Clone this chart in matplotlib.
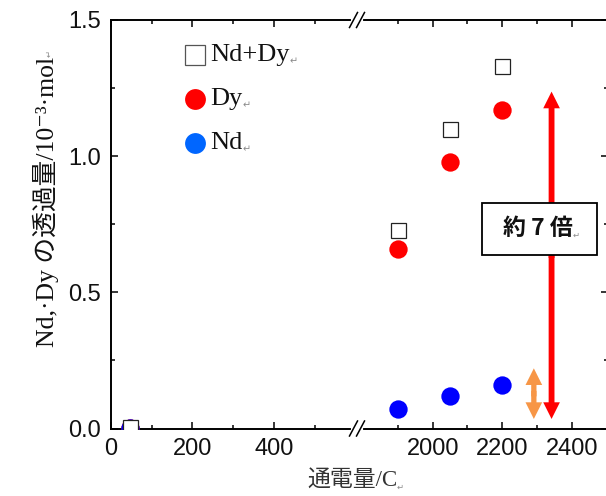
import matplotlib
matplotlib.use('Agg')
import matplotlib.pyplot as plt
from matplotlib.patches import FancyArrowPatch, Rectangle
from matplotlib.ticker import FixedLocator, MultipleLocator, FormatStrFormatter
from matplotlib.lines import Line2D
from matplotlib.text import Annotation

# ---------------- data ----------------
charge = [47, 1900, 2050, 2200]          # 通電量 / C
nd = [0.002, 0.07, 0.12, 0.16]           # Nd 透過量 / 10^-3 mol
dy = [0.002, 0.66, 0.98, 1.17]           # Dy
nd_dy = [0.006, 0.73, 1.10, 1.33]        # Nd+Dy

series_labels = ['Nd+Dy', 'Dy', 'Nd']
xlabel = '通電量/C'
ylabel = 'Nd,·Dy の透過量/10⁻³·mol'
ratio_text = '約 7 倍'

left_xlim = (0, 603)
right_xlim = (1782, 2503)
ylim = (0, 1.5)
left_major = [0, 200, 400]
left_minor = [100, 300, 500]
right_major = [2000, 2200, 2400]
right_minor = [1900, 2100, 2300]

# annotation arrows (x, y_low, y_high)
dy_arrow = (2342, 0.035, 1.237)
nd_arrow = (2291, 0.035, 0.221)

# ---------------- style ----------------
plt.rcParams['font.family'] = ['Liberation Sans', 'DejaVu Sans']
SERIF = ['Liberation Serif', 'Noto Sans CJK JP', 'DejaVu Sans']
CJK = ['Noto Sans CJK JP', 'Liberation Serif', 'DejaVu Sans']
RED = '#ff0000'
BLUE = '#0000ff'
LEG_BLUE = '#0066ff'
ORANGE = '#f79646'

W, H = 606, 496
fig = plt.figure(figsize=(W / 100, H / 100), dpi=100)


def fx(px):
    return px / W


def fy(py):
    return 1 - py / H


x0, xb, x1 = 110.7, 357.0, 607.5
ytop, ybot = 20.0, 428.5
axL = fig.add_axes([fx(x0), fy(ybot), fx(xb) - fx(x0), fy(ytop) - fy(ybot)])
axR = fig.add_axes([fx(xb), fy(ybot), fx(x1) - fx(xb), fy(ytop) - fy(ybot)])

for ax in (axL, axR):
    ax.set_ylim(*ylim)
    ax.tick_params(which='both', direction='in', width=1.1, top=True, bottom=True,
                   labelsize=17, pad=7, colors='black')
    ax.tick_params(which='major', length=5)
    ax.tick_params(which='minor', length=3)
    ax.yaxis.set_major_locator(MultipleLocator(0.5))
    ax.yaxis.set_minor_locator(MultipleLocator(0.25))
    ax.yaxis.set_major_formatter(FormatStrFormatter('%.1f'))
    for s in ax.spines.values():
        s.set_linewidth(1.4)
    for lab in ax.get_xticklabels() + ax.get_yticklabels():
        lab.set_color('#111111')

axL.set_xlim(*left_xlim)
axR.set_xlim(*right_xlim)
axL.xaxis.set_major_locator(FixedLocator(left_major))
axL.xaxis.set_minor_locator(FixedLocator(left_minor))
axR.xaxis.set_major_locator(FixedLocator(right_major))
axR.xaxis.set_minor_locator(FixedLocator(right_minor))

axL.spines['right'].set_visible(False)
axR.spines['left'].set_visible(False)
axL.tick_params(axis='y', which='both', left=True, right=False)
axR.tick_params(axis='y', which='both', left=False, right=True,
                labelleft=False, labelright=False)

# ---------------- data markers ----------------
for ax in (axL, axR):
    ax.plot(charge, dy, 'o', color=RED, ms=13.2, mec='none', zorder=3)
    ax.plot(charge, nd, 'o', color=BLUE, ms=13.2, mec='none', zorder=3)
    ax.plot(charge, nd_dy, 's', mfc='white', mec='#222222', mew=0.9, ms=10.8, zorder=4)

# ---------------- manual legend ----------------
leg_y = [0.914, 0.807, 0.698]
leg_styles = [dict(marker='s', mfc='white', mec='#555555', mew=0.9, ms=14.4),
              dict(marker='o', mfc=RED, mec='none', ms=15),
              dict(marker='o', mfc=LEG_BLUE, mec='none', ms=15)]


def return_mark(txt, xy=(1.0, 0.22), rotation=0, ha='left', va='center', size=7):
    a = Annotation('↵', xy=xy, xycoords=txt, fontsize=size, color='#8a8a8a',
                   rotation=rotation, ha=ha, va=va, family=['DejaVu Sans'])
    fig.add_artist(a)
    return a


for lab, yy, st in zip(series_labels, leg_y, leg_styles):
    axL.plot([0.342], [yy], transform=axL.transAxes, linestyle='none',
             clip_on=False, **st)
    t = axL.text(0.403, yy, lab, transform=axL.transAxes, ha='left', va='center',
                 fontsize=19, family=SERIF, color='#111111')
    return_mark(t)

# ---------------- arrows ----------------


def double_arrow(ax, spec, color, tail_w, head_w, head_l):
    x, ylo, yhi = spec
    ym = (ylo + yhi) / 2
    eps = 0.01
    for start, tip in ((ym - eps, yhi), (ym + eps, ylo)):
        a = FancyArrowPatch((x, start), (x, tip),
                            arrowstyle=f'simple,head_length={head_l},head_width={head_w},tail_width={tail_w}',
                            mutation_scale=1, color=color, lw=0,
                            shrinkA=0, shrinkB=0, zorder=5)
        ax.add_patch(a)


double_arrow(axR, dy_arrow, RED, 4.2, 12.0, 12.0)
double_arrow(axR, nd_arrow, ORANGE, 3.8, 12.0, 12.0)

# ratio box
box = Rectangle((2141, 0.638), 331, 0.190, facecolor='white', edgecolor='black',
                lw=1.3, zorder=6)
axR.add_patch(box)
bt = axR.text(2303, 0.733, ratio_text, ha='center', va='center', fontsize=16.5,
              family=CJK, fontweight='bold', color='#111111', zorder=7)
return_mark(bt, size=6)

# ---------------- axis break marks ----------------
for ypx in (ytop, ybot):
    fig.add_artist(Line2D([fx(xb - 4), fx(xb + 4)], [fy(ypx), fy(ypx)],
                          color='white', lw=3, transform=fig.transFigure, zorder=10))
    for cx in (xb - 3.5, xb + 3.5):
        fig.add_artist(Line2D([fx(cx - 4), fx(cx + 4)], [fy(ypx + 7.5), fy(ypx - 7.5)],
                              color='black', lw=1.1, transform=fig.transFigure, zorder=11))

# ---------------- axis labels ----------------
xl = fig.text(fx(352), fy(481), xlabel, ha='center', va='center', fontsize=16.5,
              family=SERIF, color='#333333')
return_mark(xl, size=6)
yl = fig.text(fx(46), fy(202), ylabel, ha='center', va='center', rotation=90,
              fontsize=18.5, family=SERIF, color='#111111')
return_mark(yl, xy=(0.6, 1.0), rotation=90, ha='center', va='bottom', size=6)

fig.savefig('out.png', dpi=100)
